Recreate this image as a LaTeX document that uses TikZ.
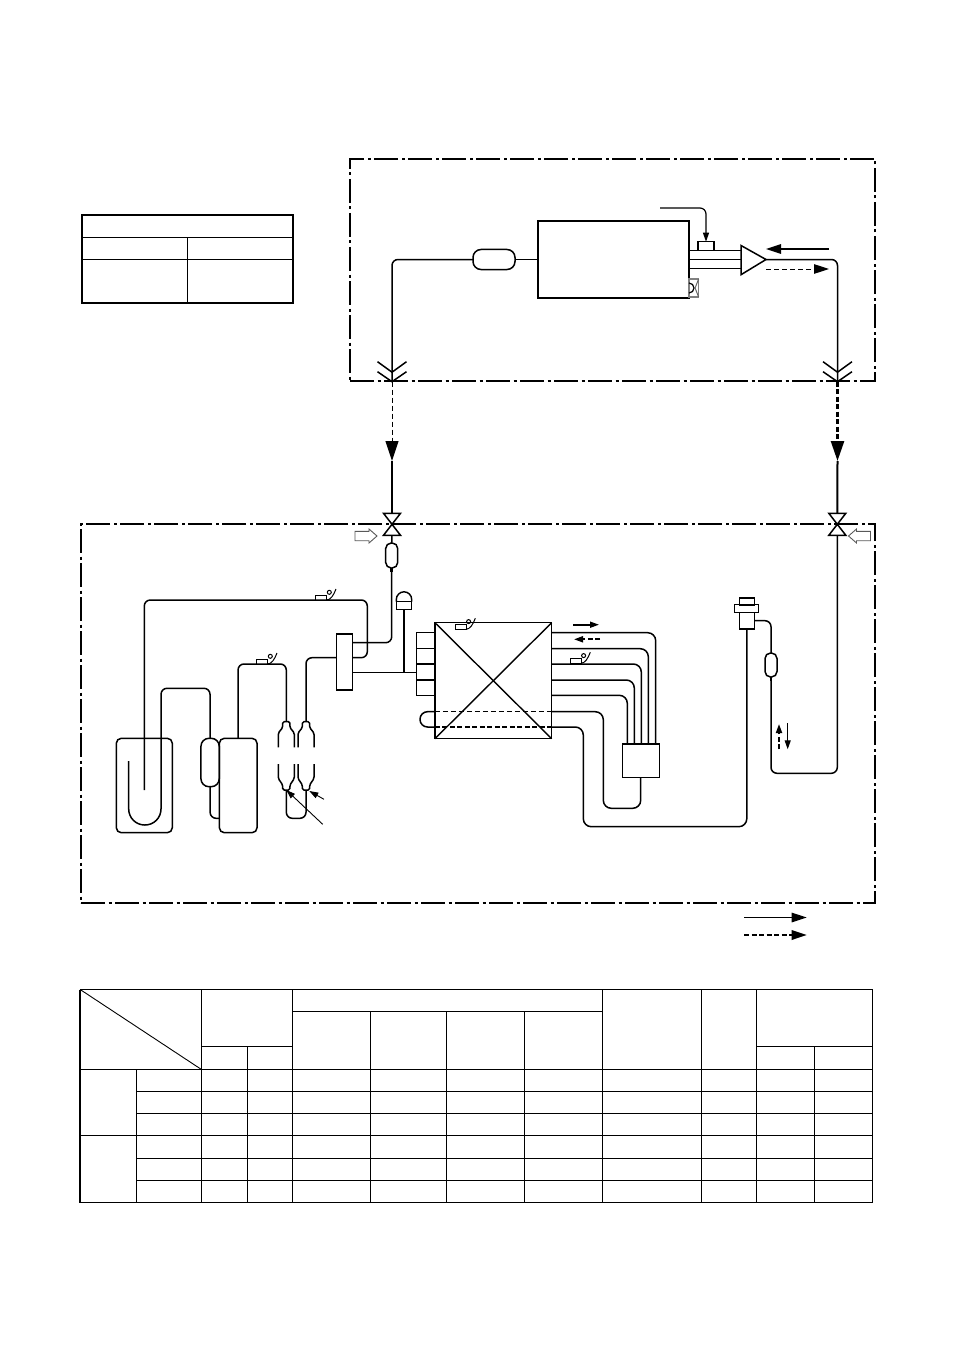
\documentclass[tikz,border=0pt]{standalone}
\usepackage{tikz}
\usetikzlibrary{arrows.meta,calc}
\tikzstyle{element}=[
  draw=black,
  inner sep=0pt,
  line width=1.5pt,
  outer sep=0pt,
  rectangle,
]
\tikzstyle{capsule}=[
  element,
  rounded corners=5.5pt,
]
\tikzstyle{vessel}=[
  element,
  rounded corners=5pt,
]
\tikzstyle{pipe}=[
  draw=black,
  line width=1.5pt,
  rounded corners=6pt,
]
\tikzstyle{boundary}=[
  draw=black,
  line width=1.2pt,
  dash pattern=on 24pt off 3.5pt on 3pt off 3.5pt,
]
\tikzstyle{flow}=[
  draw=black,
  line width=1.2pt,
]
\tikzstyle{heavydash}=[
  line width=1.8pt,
  dash pattern=on 5pt off 2.5pt,
]
\tikzstyle{lightdash}=[
  line width=1pt,
  dash pattern=on 5pt off 3pt,
]
\tikzstyle{grid}=[
  draw=black,
  line width=1pt,
]
\tikzset{
  >={Triangle[length=9pt,width=6pt]},
  bigtip/.tip={Triangle[length=20pt,width=13pt]},
  midtip/.tip={Triangle[length=15pt,width=9.5pt]},
  inlet/.pic={
    \draw [draw=black!65, line width=.9pt] (-11,-4.7) -- (3,-4.7) -- (3,-7) -- (11,0) -- (3,7) -- (3,4.7) -- (-11,4.7) -- cycle;
  },
  sensor/.pic={
    \draw [line width=1pt] (0,0) rectangle (11,-4.5);
    \draw [line width=1pt] (11,0) .. controls (15,0) and (18,-5) .. (20.3,-11);
    \draw [line width=1pt] (13.6,-7.7) circle (2);
  },
  flare/.pic={
    \draw [pipe, sharp corners] (-14.5,-20) -- (0,-9.5) -- (14.5,-20);
    \draw [pipe, sharp corners] (-14.5,-10) -- (0,0) -- (14.5,-10);
  },
  drier/.pic={
    \coordinate (-top) at (0,-33.8);
    \coordinate (-bot) at (0,34.5);
    \draw [pipe, rounded corners=1.5pt] (-8,-8.2) -- (-8,-22.5) -- (-3.6,-28) -- (-3.6,-33.8) -- (3.6,-33.8) -- (3.6,-28) -- (8,-22.5) -- (8,-8.2);
    \draw [pipe, rounded corners=1.5pt] (-8,8.5) -- (-8,23) -- (-3.6,29.5) -- (-3.6,34.5) -- (3.6,34.5) -- (3.6,29.5) -- (8,23) -- (8,8.5);
  },
}
\begin{document}
\begin{tikzpicture}[x=1pt,y=-1pt]
  \useasboundingbox (0,0) rectangle (954,1348);
  %% indoor unit
  \node (indoor) [boundary, rectangle, inner sep=0pt, minimum width=525pt, minimum height=222pt] at (612.5,270) {};
  \node (block) [element, minimum width=151pt, minimum height=77pt] at (613.5,259.5) {};
  \node (capsuleA) [capsule, rounded corners=8pt, minimum width=42pt, minimum height=20pt] at (494,259.5) {};
  \node (port) [element, line width=1.2pt, minimum width=16pt, minimum height=9pt] at (706,246.2) {};
  \node (fan) [element, draw=black!50, line width=1.2pt, minimum width=9.6pt, minimum height=18pt] at (693.8,288) {};
  \draw [draw=black!60, line width=1pt] (fan.north east) -- ++(-3.5,9) -- (fan.south east);
  \draw [line width=1.2pt] (fan.north west) ++(0,4) arc [start angle=90, end angle=-90, radius=5pt];
  \coordinate (flareL) at (392,381.7);
  \coordinate (flareR) at (837.5,381.7);
  \coordinate (sense) at (660,208);
  \coordinate (distU) at (741,250.7);
  \coordinate (distM) at (741,259.5);
  \coordinate (distD) at (741,268.3);
  \coordinate (tip) at (766,259.5);
  \pic at (flareL) {flare};
  \pic at (flareR) {flare};
  %%
  \draw [pipe] (capsuleA.west) -| (flareL);
  \draw [pipe] (capsuleA) -- (block);
  \draw [pipe] (tip) -| (flareR);
  \draw [pipe, sharp corners] (741,245.5) -- (741,274.7) -- (tip) -- cycle;
  \draw [pipe, sharp corners] (distU) -- (distU-|block.east);
  \draw [pipe, sharp corners] (distM) -- (distM-|block.east);
  \draw [pipe, sharp corners] (distD) -- (distD-|block.east);
  \draw [->, flow, rounded corners=6pt] (sense) -| (port.north);
  \draw [-midtip, flow, line width=1.6pt] (829,249) -- (766,249);
  \draw [-midtip, flow, lightdash] (766,269) -- (829,269);
  %% outdoor unit
  \node (outdoor) [boundary, rectangle, inner sep=0pt, minimum width=794pt, minimum height=379pt] at (478,713.5) {};
  \node (valveL) [minimum width=17pt, minimum height=22pt, inner sep=0pt, outer sep=0pt] at (392,524.3) {};
  \node (valveR) [minimum width=17pt, minimum height=22pt, inner sep=0pt, outer sep=0pt] at (837.3,524.3) {};
  \draw [pipe, sharp corners] (valveL.north west) -- (valveL.south east) -- (valveL.south west) -- (valveL.north east) -- cycle;
  \draw [pipe, sharp corners] (valveR.north west) -- (valveR.south east) -- (valveR.south west) -- (valveR.north east) -- cycle;
  \pic at (366,536) {inlet};
  \pic [rotate=180] at (859.5,536) {inlet};
  %%
  \coordinate (headL) at (392,461);
  \coordinate (headR) at (837.5,461);
  \draw [flow, lightdash, -bigtip] (flareL) -- (headL);
  \draw [flow, heavydash, line width=2.5pt, -bigtip] (flareR) -- (headR);
  \draw [flow, line width=1.7pt] (headL) -- (valveL.north);
  \draw [flow, line width=2pt] (headR) -- (valveR.north);
  %%
  \node (capsuleB) [capsule, minimum width=12pt, minimum height=25pt] at (391.7,555.5) {};
  \node (capsuleC) [capsule, minimum width=12pt, minimum height=24pt] at (771,665) {};
  \node (manifold) [element, minimum width=15.6pt, minimum height=56pt] at (344.5,662) {};
  \node (cap) [element, rounded corners=0pt, minimum width=15.4pt, minimum height=8pt] at (404,605.5) {};
  \draw [element, line width=1.4pt] (cap.north west) -- ++(0,-2) arc [start angle=180, end angle=0, radius=7.7pt] -- (cap.north east);
  \node (compressor) [vessel, minimum width=37.7pt, minimum height=94.4pt] at (238.2,785.5) {};
  \node (accumulator) [vessel, minimum width=56pt, minimum height=94.4pt] at (144.3,785.5) {};
  \node (capsuleD) [capsule, rounded corners=8pt, minimum width=18.3pt, minimum height=48.4pt] at (210.1,762.5) {};
  \pic (drierA) at (286.3,755.5) {drier};
  \pic (drierB) at (306,755.5) {drier};
  \node (hx) [element, minimum width=116.7pt, minimum height=116pt] at (493.3,680.7) {};
  \draw [flow, line width=1.4pt] (hx.north west) -- (hx.south east);
  \draw [flow, line width=1.4pt] (hx.south west) -- (hx.north east);
  \node (header) [element, minimum width=18.7pt, minimum height=62.6pt] at (425.6,664) {};
  \draw [flow] (header.west|-0,648.7) -- (header.east|-0,648.7);
  \draw [flow] (header.west|-0,664) -- (header.east|-0,664);
  \draw [flow] (header.west|-0,680) -- (header.east|-0,680);
  \node (box) [element, minimum width=37pt, minimum height=33.3pt] at (640.8,760.6) {};
  \node (body) [element, minimum width=15pt, minimum height=16.3pt] at (746.8,620.8) {};
  \node (flange) [element, minimum width=24.4pt, minimum height=8pt] at (746.5,608.7) {};
  \node (lid) [element, minimum width=15pt, minimum height=6.7pt] at (746.8,601.4) {};
  %%
  \coordinate (pipeA) at (144.3,790);
  \coordinate (pipeB) at (128.7,761);
  \coordinate (bendA) at (391.7,642.7);
  \coordinate (bendB) at (367.3,657.7);
  \draw [pipe] (valveL.south) -- (capsuleB.north);
  \draw [pipe] (capsuleB.south) |- (manifold.east|-bendA);
  \draw [line width=2.6pt] (capsuleB.south) -- ++(0,3.5);
  \draw [pipe] (pipeA) |- (bendB|-0,600) -- (bendB) -- (manifold.east|-bendB);
  \draw [pipe] (manifold.west|-bendB) -| (drierB-top);
  \draw [pipe] (drierA-top) |- (238,664) -- (compressor.north);
  \draw [pipe] (drierA-bot) |- (306,818.3) -- (drierB-bot);
  \draw [pipe, sharp corners] (cap.south) -- (404,672.7);
  \draw [pipe, sharp corners] (manifold.east|-0,672.7) -- (header.west|-0,672.7);
  \draw [pipe, rounded corners=16pt] (pipeB) |- (161,825) [rounded corners=6pt] -- (161,688.3) -- (210,688.3) -- (capsuleD.north);
  \draw [pipe] (capsuleD.south) |- (compressor.west|-0,818.3);
  \pic at (315.7,600) {sensor};
  \pic at (256.7,664) {sensor};
  \pic at (455,629.3) {sensor};
  \pic at (570,663.3) {sensor};
  %%
  \coordinate (noteA) at (324,799.3);
  \coordinate (noteB) at (322.7,824.3);
  \draw [->, flow, line width=.9pt] (noteA) -- (309.3,791);
  \draw [->, flow, line width=.9pt] (noteB) -- (drierA-bot);
  %% heat exchanger tubes
  \foreach \yy/\xx in {632.7/655.7,648.7/648.3,664/641.3,680/634.3,695.3/627.3}
    \draw [pipe, rounded corners=8pt] (hx.east|-0,\yy) -| (\xx,0|-box.north);
  \draw [pipe, rounded corners=8pt] (hx.east|-0,711.7) -| (603.3,808.3) -| (640.7,0|-box.south);
  \draw [pipe, rounded corners=8pt] (hx.east|-0,727) -| (583.3,826.7) -| (body.south);
  \draw [pipe, rounded corners=7.5pt] (hx.west|-0,711.7) -- (420,711.7) -- (420,727) -- (hx.west|-0,727);
  \draw [flow, lightdash] (hx.west|-0,711.7) -- (hx.east|-0,711.7);
  \draw [flow, heavydash] (hx.west|-0,727) -- (hx.east|-0,727);
  \draw [->, flow, line width=1.6pt] (573.3,624.7) -- (599,624.7);
  \draw [->, flow, heavydash] (600,639.3) -- (574,639.3);
  %% liquid line
  \draw [pipe] (valveR.south) |- (capsuleC.south|-0,773.3) -- (capsuleC.south);
  \draw [pipe] (capsuleC.north) |- (body.east|-0,620.7);
  \draw [line width=2.6pt] (capsuleC.south) -- ++(0,3.5);
  \draw [->, flow, heavydash] (779,749.3) -- (779,724);
  \draw [->, flow] (787.7,723.3) -- (787.7,749.3);
  %% legend
  \coordinate (keyA) at (744,917.5);
  \coordinate (keyB) at (744,935);
  \draw [-midtip, flow] (keyA) -- ++(62.7,0);
  \draw [-midtip, flow, heavydash] (keyB) -- ++(62.7,0);
  %% small table
  \node (smalltab) [element, line width=2pt, minimum width=211pt, minimum height=88.3pt] at (187.2,259.2) {};
  \draw [grid, line width=1.4pt] (smalltab.west|-0,237.3) -- (smalltab.east|-0,237.3);
  \draw [grid, line width=1.4pt] (smalltab.west|-0,259.3) -- (smalltab.east|-0,259.3);
  \draw [grid, line width=1.4pt] (187.3,237.3) -- (187.3,303.3);
  %% big table
  \node (bigtab) [element, line width=1.1pt, minimum width=792.3pt, minimum height=213pt] at (476.3,1096) {};
  \draw [line width=2pt] (bigtab.north west) -- (bigtab.south west);
  \draw [grid, line width=.9pt] (bigtab.north west) -- (201.5,1069.5);
  \draw [grid] (292.5,1011.5) -- (601.5,1011.5);
  \draw [grid] (201.5,1046.5) -- (292.5,1046.5);
  \draw [grid] (756,1046.5) -- (872.5,1046.5);
  \foreach \yy in {1069.5,1135.5}
    \draw [grid] (80,\yy) -- (872.5,\yy);
  \foreach \yy in {1091.5,1113.5,1158.5,1180.5}
    \draw [grid] (136,\yy) -- (872.5,\yy);
  \foreach \xx in {201.5,292.5,701.5}
    \draw [grid] (\xx,989.5) -- (\xx,1202.5);
  \foreach \xx in {370.5,446.5,524.5}
    \draw [grid] (\xx,1011.5) -- (\xx,1202.5);
  \foreach \xx in {602,756}
    \draw [grid] (\xx,989.5) -- (\xx,1202.5);
  \draw [grid] (136,1069.5) -- (136,1202.5);
  \foreach \xx in {247,814}
    \draw [grid] (\xx,1046.5) -- (\xx,1202.5);
\end{tikzpicture}
\end{document}
